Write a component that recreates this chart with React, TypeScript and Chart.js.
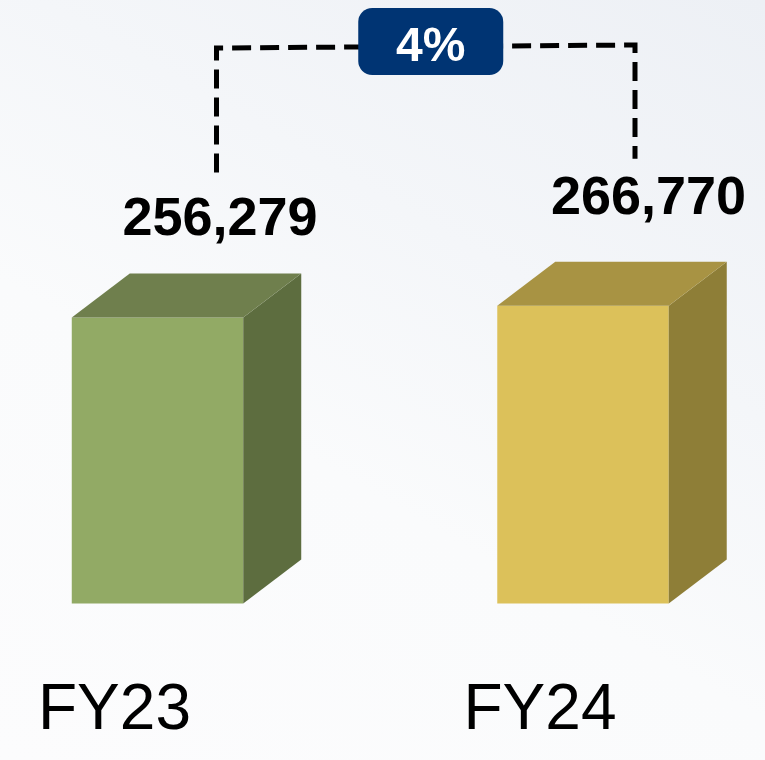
import React, { useEffect, useRef } from "react";
import { Chart, registerables } from "chart.js";

Chart.register(...registerables);

const categories = ["FY23", "FY24"];
const revenue = [256279, 266770];
const valueLabels = ["256,279", "266,770"];
const growthLabel = "4%";

const frontColors = ["#92AA65", "#DCC15A"];
const sideColors = ["#5D6D3F", "#8E7E37"];
const topColors = ["#6F7F4D", "#A89343"];

const FONT = "'Liberation Sans', Arial, Helvetica, sans-serif";

const threeDPlugin = {
  id: "threeD",
  afterDatasetsDraw(chart: any) {
    const ctx = chart.ctx as CanvasRenderingContext2D;
    const meta = chart.getDatasetMeta(0);
    const dx = 58;
    const dy = 44;
    meta.data.forEach((bar: any, i: number) => {
      const { x, y, base, width } = bar.getProps(["x", "y", "base", "width"], true);
      const l = x - width / 2;
      const r = x + width / 2;
      ctx.save();
      ctx.fillStyle = sideColors[i];
      ctx.beginPath();
      ctx.moveTo(r, y);
      ctx.lineTo(r + dx, y - dy);
      ctx.lineTo(r + dx, base - dy);
      ctx.lineTo(r, base);
      ctx.closePath();
      ctx.fill();
      ctx.fillStyle = topColors[i];
      ctx.beginPath();
      ctx.moveTo(l, y);
      ctx.lineTo(l + dx, y - dy);
      ctx.lineTo(r + dx, y - dy);
      ctx.lineTo(r, y);
      ctx.closePath();
      ctx.fill();
      ctx.restore();
    });

    const labelDx = [62.5, 65.5];
    const labelDy = [-82, -92];
    ctx.save();
    ctx.fillStyle = "#000";
    ctx.font = `bold 54px ${FONT}`;
    ctx.textAlign = "center";
    ctx.textBaseline = "alphabetic";
    meta.data.forEach((bar: any, i: number) => {
      ctx.fillText(valueLabels[i], bar.x + labelDx[i], bar.y + labelDy[i]);
    });
    ctx.restore();

    const b0 = meta.data[0];
    const b1 = meta.data[1];
    const lx = b0.x + 59;
    const rx = b1.x + 52;
    const lTop = 48;
    const rTop = 45;
    ctx.save();
    ctx.strokeStyle = "#000";
    ctx.lineWidth = 5;
    ctx.setLineDash([19, 9]);
    ctx.beginPath();
    ctx.moveTo(lx, b0.y - 145);
    ctx.lineTo(lx, lTop);
    ctx.lineTo(rx, rTop);
    ctx.lineTo(rx, b1.y - 147);
    ctx.stroke();
    ctx.restore();

    const cx = (lx + rx) / 2 + 5;
    const bw = 145;
    const bh = 67;
    const bx = cx - bw / 2;
    const by = 8;
    ctx.save();
    ctx.fillStyle = "#003473";
    ctx.beginPath();
    (ctx as any).roundRect(bx, by, bw, bh, 14);
    ctx.fill();
    ctx.fillStyle = "#fff";
    ctx.font = `bold 48px ${FONT}`;
    ctx.textAlign = "center";
    ctx.textBaseline = "alphabetic";
    ctx.fillText(growthLabel, cx, 61);
    ctx.restore();
  },
};

export default function App() {
  const ref = useRef<HTMLCanvasElement>(null);
  useEffect(() => {
    document.body.style.margin = "0";
    const chart = new Chart(ref.current!, {
      type: "bar",
      data: {
        labels: categories,
        datasets: [
          {
            data: revenue,
            backgroundColor: frontColors,
            borderWidth: 0,
            categoryPercentage: 0.403,
            barPercentage: 1,
            clip: false as any,
          },
        ],
      },
      options: {
        responsive: false,
        animation: false,
        layout: { padding: { left: 157.5, right: 182, top: 45.3, bottom: 0 } },
        plugins: { legend: { display: false }, tooltip: { enabled: false } },
        scales: {
          x: {
            offset: false,
            grid: { display: false, drawTicks: false },
            border: { display: false },
            ticks: {
              color: "#000",
              font: { family: FONT, size: 64, lineHeight: 1.2 },
              padding: 69,
              labelOffset: -43,
              maxRotation: 0,
              autoSkip: false,
            },
            afterFit: (scale: any) => {
              scale.height = 156.5;
            },
          },
          y: { display: false, min: 0, max: 500000 },
        },
      },
      plugins: [threeDPlugin],
    });
    return () => chart.destroy();
  }, []);
  return (
    <div
      style={{
        width: 765,
        height: 760,
        background:
          "linear-gradient(210deg, #edf0f5 0%, #f4f6f9 35%, #fafbfc 60%, #fcfcfd 100%)",
      }}
    >
      <canvas ref={ref} width={765} height={760} />
    </div>
  );
}
